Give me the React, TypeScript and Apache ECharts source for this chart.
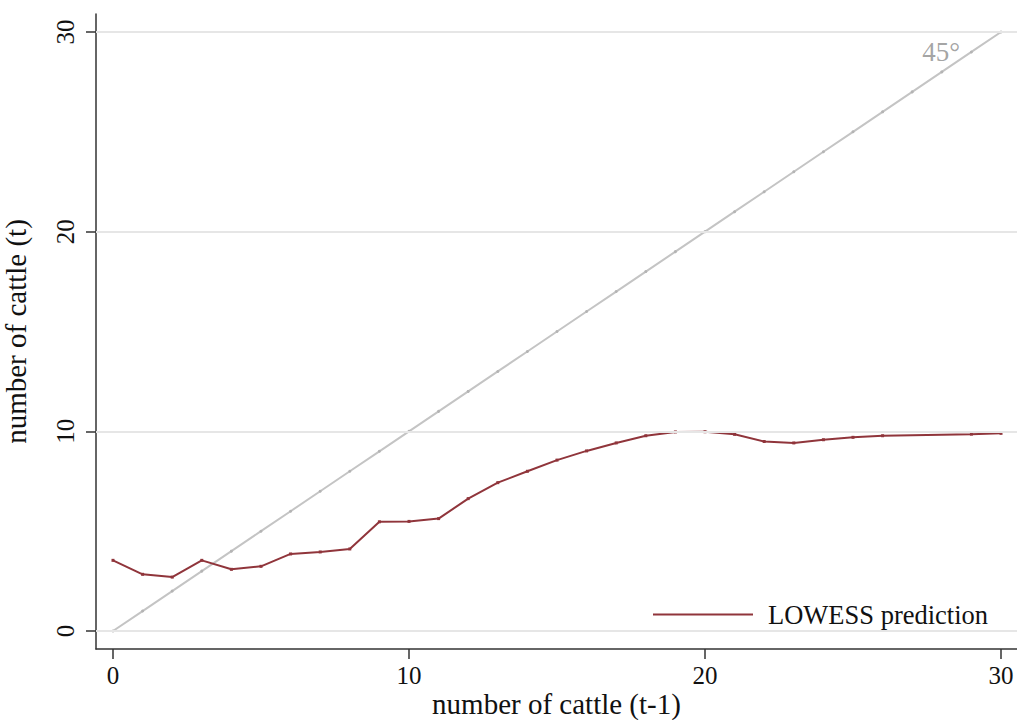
import React, { useEffect, useRef } from "react";
import * as echarts from "echarts";

const lowessX: number[] = [0,1,2,3,4,5,6,7,8,9,10,11,12,13,14,15,16,17,18,19,20,21,22,23,24,25,26,29,30];
const lowessY: number[] = [3.54,2.84,2.70,3.54,3.09,3.24,3.86,3.96,4.11,5.47,5.49,5.63,6.63,7.43,8.0,8.56,9.02,9.42,9.78,9.97,9.98,9.85,9.49,9.42,9.58,9.70,9.78,9.86,9.90];
const diagX: number[] = [0,1,2,3,4,5,6,7,8,9,10,11,12,13,14,15,16,17,18,19,20,21,22,23,24,25,26,27,28,29,30];
const tickValues: number[] = [0, 10, 20, 30];
const diagLabel = { text: "45°", x: 27.98, y: 29.0 };
const seriesName = "LOWESS prediction";

const FONT = "Liberation Serif";

export default function App() {
  const ref = useRef<HTMLDivElement>(null);
  useEffect(() => {
    if (!ref.current) return;
    const chart = echarts.init(ref.current, undefined, { renderer: "svg" });
    const axisCommon = {
      type: "value" as const,
      axisLine: { show: true, onZero: false, lineStyle: { color: "#333", width: 1.5 } },
      axisTick: { show: true, length: 10, inside: false, lineStyle: { color: "#333", width: 1.5 }, customValues: tickValues },
      splitLine: { show: false },
      nameMoveOverlap: false,
    };
    chart.setOption({
      animation: false,
      backgroundColor: "#fff",
      grid: { left: 96, right: 0, top: 14, bottom: 71, containLabel: false, outerBoundsMode: "none" },
      xAxis: {
        ...axisCommon,
        min: -0.574,
        max: 30.54,
        name: "number of cattle (t-1)",
        nameLocation: "middle",
        nameGap: 40,
        nameTextStyle: { fontFamily: FONT, fontSize: 29, color: "#111" },
        axisLabel: { customValues: tickValues, margin: 14, fontFamily: FONT, fontSize: 25, color: "#111" },
      },
      yAxis: {
        ...axisCommon,
        min: -0.9,
        max: 30.9,
        name: "number of cattle (t)",
        nameLocation: "middle",
        nameGap: 66,
        nameRotate: 90,
        nameTextStyle: { fontFamily: FONT, fontSize: 29, color: "#111" },
        axisLabel: { customValues: tickValues, margin: 18, rotate: 90, fontFamily: FONT, fontSize: 25, color: "#111" },
      },
      legend: {
        data: [seriesName],
        left: 648,
        top: 596,
        icon: "rect",
        itemWidth: 100,
        itemHeight: 2,
        textStyle: { fontFamily: FONT, fontSize: 26.5, color: "#111", padding: [0, 0, 0, 10] },
      },
      series: [
        {
          type: "line",
          name: "grid",
          data: [],
          silent: true,
          markLine: {
            silent: true,
            symbol: "none",
            label: { show: false },
            lineStyle: { color: "#e6e6e6", width: 2, type: "solid" },
            data: tickValues.map((v) => ({ yAxis: v })),
          },
        },
        {
          type: "line",
          name: "diag",
          data: diagX.map((v) => [v, v]),
          symbol: "circle",
          symbolSize: 3,
          itemStyle: { color: "#b4b4b4" },
          lineStyle: { color: "#c4c4c4", width: 2 },
          silent: true,
        },
        {
          type: "scatter",
          name: "diaglabel",
          data: [[diagLabel.x, diagLabel.y]],
          symbolSize: 0,
          silent: true,
          label: {
            show: true,
            formatter: diagLabel.text,
            position: "inside",
            fontFamily: FONT,
            fontSize: 27,
            color: "#8c8c8c",
          },
        },
        {
          type: "line",
          name: seriesName,
          data: lowessX.map((x, i) => [x, lowessY[i]]),
          symbol: "rect",
          symbolSize: 3,
          itemStyle: { color: "#90353B" },
          lineStyle: { color: "#90353B", width: 2 },
        },
      ],
    });
    return () => chart.dispose();
  }, []);
  return <div ref={ref} style={{ position: "fixed", left: 0, top: 0, width: 1017, height: 720 }} />;
}
